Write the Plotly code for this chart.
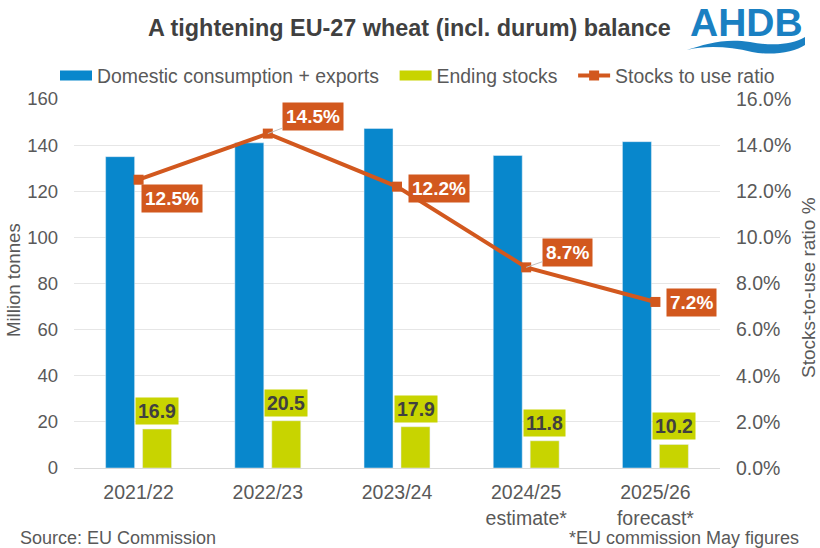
import plotly.graph_objects as go

categories = ["2021/22", "2022/23", "2023/24", "2024/25<br>estimate*", "2025/26<br>forecast*"]
consumption = [135, 141, 147.2, 135.5, 141.5]
stocks = [16.9, 20.5, 17.9, 11.8, 10.2]
ratio = [12.5, 14.5, 12.2, 8.7, 7.2]
ratio_labels = ["12.5%", "14.5%", "12.2%", "8.7%", "7.2%"]
stock_labels = ["16.9", "20.5", "17.9", "11.8", "10.2"]
left_ticks = [0, 20, 40, 60, 80, 100, 120, 140, 160]
right_ticks = [0, 2, 4, 6, 8, 10, 12, 14, 16]
right_tick_labels = ["0.0%", "2.0%", "4.0%", "6.0%", "8.0%", "10.0%", "12.0%", "14.0%", "16.0%"]
series_names = ["Domestic consumption + exports", "Ending stocks", "Stocks to use ratio"]

BLUE, GREEN, ORANGE = "#0887cc", "#c8d400", "#d2581e"
TEXT = "#404040"
GREY = "#595959"
LOGO = "#1a80c2"
FONT = "Liberation Sans"
W, H = 820, 548
L, R, T, B = 74, 720, 99, 468

def px(x):
    return (x - L) / (R - L)

def py(y):
    return (B - y) / (B - T)

fig = go.Figure()
fig.add_bar(x=categories, y=consumption, marker_color=BLUE, showlegend=False, name=series_names[0])
fig.add_bar(x=categories, y=stocks, marker_color=GREEN, showlegend=False, name=series_names[1])
fig.add_scatter(x=[None], y=[None], mode="lines", line=dict(color=BLUE, width=11),
                name=series_names[0] + "\u00a0\u00a0")
fig.add_scatter(x=[None], y=[None], mode="lines", line=dict(color=GREEN, width=11),
                name=series_names[1] + "\u00a0\u00a0")
fig.add_scatter(x=categories, y=ratio, yaxis="y2", mode="lines+markers", name=series_names[2],
                line=dict(color=ORANGE, width=4), marker=dict(symbol="square", size=10, color=ORANGE))

annotations = []
ratio_offsets = [(33.5, 18.5), (45, -17), (41.5, 2), (41.5, -14.5), (36, 0.5)]
for c, v, t, (dx, dy), leader in zip(categories, ratio, ratio_labels, ratio_offsets,
                                     [False, True, False, True, False]):
    common = dict(text="<b>%s</b>" % t, bgcolor=ORANGE, borderpad=3,
                  font=dict(color="white", size=19, family=FONT))
    if leader:
        annotations.append(dict(x=c, y=v, xref="x", yref="y2", showarrow=True, arrowhead=0,
                                arrowwidth=1, arrowcolor="#bfbfbf", ax=dx, ay=dy, standoff=0, **common))
    else:
        annotations.append(dict(x=c, y=v, xref="x", yref="y2", showarrow=False, xshift=dx, yshift=-dy, **common))
for c, v, t in zip(categories, stocks, stock_labels):
    annotations.append(dict(x=c, y=v, xref="x", yref="y", showarrow=False, xshift=18.5, yanchor="bottom", yshift=4,
                            text="<b>%s</b>" % t, bgcolor=GREEN, borderpad=2,
                            font=dict(color=TEXT, size=19.5, family=FONT)))

place = dict(xref="paper", yref="paper", showarrow=False, xanchor="center", yanchor="middle")
annotations += [
    dict(text="<b>A tightening EU-27 wheat (incl. durum) balance</b>", x=px(409), y=py(28),
         font=dict(size=23.4, color=TEXT, family=FONT), **place),
    dict(text="<b>AHDB</b>", x=px(746), y=py(22), font=dict(size=39, color=LOGO, family=FONT), **place),
    dict(text="Source: EU Commission", x=px(117.5), y=py(538), font=dict(size=18, color=GREY, family=FONT), **place),
    dict(text="*EU commission May figures", x=px(684), y=py(538), font=dict(size=18, color=GREY, family=FONT), **place),
    dict(text="Million tonnes", x=px(13), y=py(280), textangle=-90,
         font=dict(size=18.6, color=GREY, family=FONT), **place),
    dict(text="Stocks-to-use ratio %", x=px(808), y=py(288), textangle=-90,
         font=dict(size=19, color=GREY, family=FONT), **place),
]

wave = "M %f,%f C %f,%f %f,%f %f,%f C %f,%f %f,%f %f,%f L %f,%f C %f,%f %f,%f %f,%f C %f,%f %f,%f %f,%f Z" % (
    px(687), py(50), px(705), py(44), px(725), py(38), px(750), py(42),
    px(772), py(46), px(792), py(45), px(805), py(37),
    px(805), py(45), px(795), py(52), px(772), py(56), px(752), py(52),
    px(730), py(47), px(708), py(45), px(687), py(50))

fig.update_layout(
    width=W, height=H, margin=dict(l=L, r=W - R, t=T, b=H - B),
    paper_bgcolor="white", plot_bgcolor="white",
    font=dict(family=FONT, color=GREY, size=18.5),
    barmode="group", bargap=0.428, bargroupgap=0.216,
    xaxis=dict(showgrid=False, showline=True, linecolor="#d9d9d9", linewidth=1, ticks="",
               tickfont=dict(size=19.5), ticklabelstandoff=7),
    yaxis=dict(range=[0, 160], tickvals=left_ticks, gridcolor="#e6e6e6", zeroline=False, ticks="",
               ticklen=0, tickfont=dict(size=18.5), ticklabelstandoff=15),
    yaxis2=dict(range=[0, 16], tickvals=right_ticks, ticktext=right_tick_labels, overlaying="y", side="right",
                showgrid=False, zeroline=False, tickfont=dict(size=19.5), ticklabelstandoff=15),
    legend=dict(orientation="h", x=px(55), y=py(76), xanchor="left", yanchor="middle", itemwidth=32,
                font=dict(size=19.4, color=GREY), bgcolor="rgba(0,0,0,0)", traceorder="normal"),
    annotations=annotations,
    shapes=[dict(type="path", path=wave, xref="paper", yref="paper", fillcolor=LOGO, line_width=0)],
)

fig.write_html("out.html", post_script="document.body.style.margin='0';", config=dict(displayModeBar=False))
